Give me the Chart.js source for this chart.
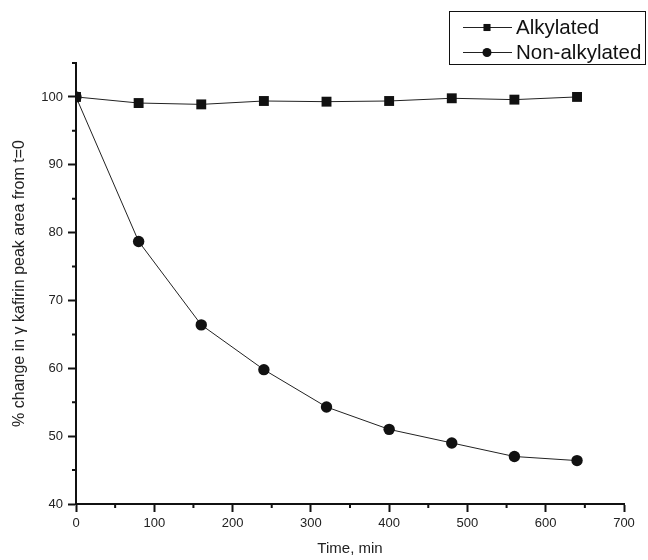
<!DOCTYPE html>
<html>
<head>
<meta charset="utf-8">
<script src="https://cdn.jsdelivr.net/npm/chart.js@4"></script>
<style>
  html, body { margin: 0; padding: 0; background: #fff; }
  #wrap { width: 648px; height: 560px; }
</style>
</head>
<body>
<div id="wrap"><canvas id="chart" width="648" height="560"></canvas></div>
<script>
//Sampling times (min)
const times = [0, 80, 160, 240, 320, 400, 480, 560, 640];
//Series values (% of t=0 peak area)
const alkylated = [100, 99.1, 98.9, 99.4, 99.3, 99.4, 99.8, 99.6, 100];
const nonAlkylated = [100, 78.7, 66.4, 59.8, 54.3, 51.0, 49.0, 47.0, 46.4];
//Tick labels
const xTicks = [0, 100, 200, 300, 400, 500, 600, 700];
const yTicks = [40, 50, 60, 70, 80, 90, 100];
const xMinor = [50, 150, 250, 350, 450, 550, 650];
const yMinor = [45, 55, 65, 75, 85, 95, 105];

const FONT = "'Liberation Sans', Arial, sans-serif";

//Minor ticks (shorter, no labels)
const minorTicks = {
  id: "minorTicks",
  afterDraw(chart) {
    const ctx = chart.ctx;
    const x = chart.scales.x;
    const y = chart.scales.y;
    ctx.save();
    ctx.strokeStyle = "#111";
    ctx.lineWidth = 2;
    ctx.beginPath();
    xMinor.forEach((v) => {
      const px = x.getPixelForValue(v);
      ctx.moveTo(px, y.bottom);
      ctx.lineTo(px, y.bottom + 4);
    });
    yMinor.forEach((v) => {
      const py = y.getPixelForValue(v);
      ctx.moveTo(x.left, py);
      ctx.lineTo(x.left - 4, py);
    });
    ctx.stroke();
    ctx.restore();
  },
};

//Boxed legend, line with marker like the original
const boxLegend = {
  id: "boxLegend",
  afterDraw(chart) {
    const ctx = chart.ctx;
    const box = { left: 449, top: 11, right: 645, bottom: 64 };
    ctx.save();
    ctx.strokeStyle = "#111";
    ctx.lineWidth = 1;
    ctx.strokeRect(box.left + 0.5, box.top + 0.5, box.right - box.left, box.bottom - box.top);
    ctx.font = "20.5px " + FONT;
    ctx.textBaseline = "middle";
    ctx.fillStyle = "#111";
    chart.data.datasets.forEach((ds, i) => {
      const cy = 27 + i * 25;
      ctx.strokeStyle = ds.borderColor;
      ctx.lineWidth = 1;
      ctx.beginPath();
      ctx.moveTo(463, cy + 0.5);
      ctx.lineTo(512, cy + 0.5);
      ctx.stroke();
      Chart.helpers.drawPoint(ctx, {
        pointStyle: ds.pointStyle,
        radius: ds.pointStyle === "rect" ? 5 : 4.5,
        borderWidth: 0,
      }, 487, cy + 0.5);
      ctx.fillStyle = "#111";
      ctx.fillText(ds.label, 516, cy + 1);
    });
    ctx.restore();
  },
};

const ctx = document.getElementById("chart").getContext("2d");
const chart = new Chart(ctx, {
  type: "line",
  data: {
    datasets: [
      {
        label: "Alkylated",
        data: times.map((t, i) => ({ x: t, y: alkylated[i] })),
        borderColor: "#222",
        backgroundColor: "#111",
        borderWidth: 1,
        pointStyle: "rect",
        pointRadius: 7,
        pointBorderWidth: 0,
        tension: 0,
      },
      {
        label: "Non-alkylated",
        data: times.map((t, i) => ({ x: t, y: nonAlkylated[i] })),
        borderColor: "#222",
        backgroundColor: "#111",
        borderWidth: 1,
        pointStyle: "circle",
        pointRadius: 5.7,
        pointBorderWidth: 0,
        tension: 0,
      },
    ],
  },
  options: {
    responsive: false,
    animation: false,
    layout: {
      padding: { top: 63, right: 24, left: 10, bottom: 0 },
    },
    plugins: {
      legend: { display: false },
      tooltip: { enabled: false },
    },
    scales: {
      x: {
        type: "linear",
        min: 0,
        max: 700,
        afterBuildTicks: (axis) => {
          axis.ticks = xTicks.map((v) => ({ value: v }));
        },
        afterFit: (scale) => {
          scale.height = 56;
        },
        border: { display: true, color: "#111", width: 2 },
        grid: {
          drawOnChartArea: false,
          drawTicks: true,
          tickLength: 8,
          tickColor: "#111",
          tickWidth: 2,
        },
        ticks: {
          padding: 4,
          maxRotation: 0,
          color: "#222",
          font: { family: FONT, size: 13 },
        },
        title: {
          display: true,
          text: "Time, min",
          color: "#222",
          padding: { top: 0, bottom: 2 },
          font: { family: FONT, size: 15 },
        },
      },
      y: {
        type: "linear",
        min: 40,
        max: 105,
        afterBuildTicks: (axis) => {
          axis.ticks = yTicks.map((v) => ({ value: v }));
        },
        afterFit: (scale) => {
          scale.width = 66;
        },
        border: { display: true, color: "#111", width: 2 },
        grid: {
          drawOnChartArea: false,
          drawTicks: true,
          tickLength: 8,
          tickColor: "#111",
          tickWidth: 2,
        },
        ticks: {
          padding: 5,
          color: "#222",
          font: { family: FONT, size: 13 },
        },
        title: {
          display: true,
          text: "% change in \u03b3 kafirin peak area from t=0",
          color: "#222",
          padding: { top: 0, bottom: 0 },
          font: { family: FONT, size: 16 },
        },
      },
    },
  },
  plugins: [minorTicks, boxLegend],
});
</script>
</body>
</html>
